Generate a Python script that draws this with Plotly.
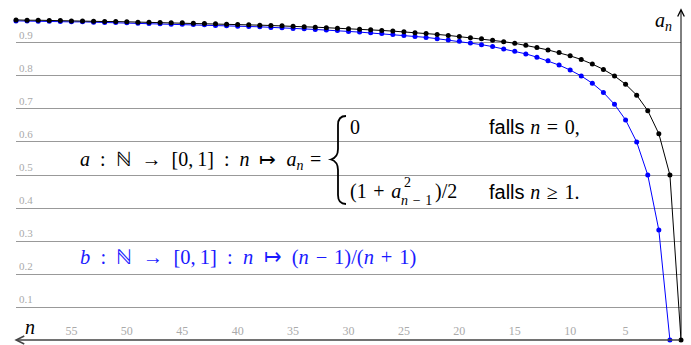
import plotly.graph_objects as go

# sequence a: a_0 = 0, a_n = (1 + a_{n-1}^2)/2
n_a = list(range(0, 61))
a_vals = [0.0, 0.5, 0.625, 0.695, 0.742, 0.775, 0.800, 0.820, 0.836, 0.850,
          0.861, 0.871, 0.879, 0.886, 0.893, 0.899, 0.904, 0.908, 0.913, 0.916,
          0.920, 0.923, 0.926, 0.929, 0.931, 0.934, 0.936, 0.938, 0.940, 0.942,
          0.943, 0.945, 0.946, 0.948, 0.949, 0.951, 0.952, 0.953, 0.954, 0.955,
          0.956, 0.957, 0.958, 0.959, 0.960, 0.961, 0.961, 0.962, 0.963, 0.963,
          0.964, 0.965, 0.965, 0.966, 0.967, 0.967, 0.968, 0.968, 0.969, 0.969,
          0.970]

# sequence b: (n-1)/(n+1), n >= 1
n_b = list(range(1, 61))
b_vals = [0.0, 0.333, 0.5, 0.6, 0.667, 0.714, 0.75, 0.778, 0.8, 0.818,
          0.833, 0.846, 0.857, 0.867, 0.875, 0.882, 0.889, 0.895, 0.9, 0.905,
          0.909, 0.913, 0.917, 0.92, 0.923, 0.926, 0.929, 0.931, 0.933, 0.935,
          0.938, 0.939, 0.941, 0.943, 0.944, 0.946, 0.947, 0.949, 0.95, 0.951,
          0.952, 0.953, 0.955, 0.956, 0.957, 0.957, 0.958, 0.959, 0.96, 0.961,
          0.962, 0.962, 0.963, 0.964, 0.964, 0.965, 0.966, 0.966, 0.967, 0.967]

x_ticks = [5, 10, 15, 20, 25, 30, 35, 40, 45, 50, 55]
y_ticks = [0.1, 0.2, 0.3, 0.4, 0.5, 0.6, 0.7, 0.8, 0.9, 1.0]
y_labels = ['0.1', '0.2', '0.3', '0.4', '0.5', '0.6', '0.7', '0.8', '0.9', '']

SERIF = 'Liberation Serif'
SANS = 'Liberation Sans'
SP = '\u2002'   # wider gap around relations, like TeX math spacing
MD = '\u2004'   # gap around binary operators
TH = '\u2009'

W, H = 691, 345
L, R, T, B = 16, 10, 9, 5

def px(x, y):
    # pixel position -> paper coords
    return (x - L) / (W - L - R), 1 - (y - T) / (H - T - B)

fig = go.Figure()
fig.add_trace(go.Scatter(x=n_b, y=b_vals, mode='lines+markers', cliponaxis=False,
                         line=dict(color='#0000ff', width=1),
                         marker=dict(color='#0000ff', size=5)))
fig.add_trace(go.Scatter(x=n_a, y=a_vals, mode='lines+markers', cliponaxis=False,
                         line=dict(color='black', width=1),
                         marker=dict(color='black', size=5)))

# axes arrows
fig.add_annotation(x=60.15, y=0, ax=0, ay=0, xref='x', yref='y', axref='x', ayref='y',
                   text='', showarrow=True, arrowhead=5, arrowsize=1, arrowwidth=1.6,
                   arrowcolor='#444')
fig.add_annotation(x=0, y=1.005, ax=0, ay=0, xref='x', yref='y', axref='x', ayref='y',
                   text='', showarrow=True, arrowhead=5, arrowsize=1.3, arrowwidth=1,
                   arrowcolor='black')

def label(x, y, text, size=20, color='black', family=SERIF, anchor='left'):
    x0, y0 = px(x, y)
    fig.add_annotation(x=x0, y=y0, xref='paper', yref='paper', showarrow=False,
                       xanchor=anchor, yanchor='middle', text=text,
                       font=dict(family=family, size=size, color=color))

label(663, 21, '<i>a</i><sub><i>n</i></sub>', size=20, anchor='center')
label(30, 327, '<i>n</i>', size=20, anchor='center')

# formulas
label(78, 160, f'<i>a</i>{SP}:{SP}ℕ{SP}→{SP}[0,{TH}1]{SP}:{SP}<i>n</i>{SP}↦{SP}<i>a</i><sub><i>n</i></sub>{MD}=')
label(348, 127, '0')
label(348, 192, f'(1{MD}+{MD}<i>a</i>')
label(402, 183, '2', size=14)
label(399, 200, f'<i>n</i>{MD}−{MD}1', size=14)
label(433, 192, ')/2')
label(487, 127, f'falls <span style="font-family:{SERIF}"><i>n</i>{MD}={MD}0,</span>', family=SANS)
label(487, 192, f'falls <span style="font-family:{SERIF}"><i>n</i>{MD}≥{MD}1.</span>', family=SANS)
label(78, 257, f'<i>b</i>{SP}:{SP}ℕ{SP}→{SP}[0,{TH}1]{SP}:{SP}<i>n</i>{SP}↦{SP}(<i>n</i>{MD}−{MD}1)/(<i>n</i>{MD}+{MD}1)',
      size=20.5, color='#1a1aff')

# curly brace of the case distinction
brace = [('M', [(346, 116)]),
         ('C', [(340, 116), (338, 119), (338, 125)]),
         ('L', [(338, 149)]),
         ('C', [(338, 155), (336, 158), (331, 159.5)]),
         ('C', [(336, 161), (338, 164), (338, 170)]),
         ('L', [(338, 195)]),
         ('C', [(338, 201), (340, 204), (346, 204)])]
path = ' '.join(cmd + ' ' + ' '.join('%.5f,%.5f' % px(*p) for p in pts) for cmd, pts in brace)
fig.add_shape(type='path', path=path, xref='paper', yref='paper',
              line=dict(color='black', width=1.8))

fig.update_xaxes(range=[60, 0], tickvals=x_ticks, ticktext=[str(v) for v in x_ticks],
                 ticklabelposition='inside', ticks='', showgrid=False, zeroline=False,
                 showline=False, tickfont=dict(family=SERIF, size=12, color='#aaa'))
fig.update_yaxes(range=[0, 1.003], tickvals=y_ticks, ticktext=y_labels,
                 ticklabelposition='inside top', ticks='', showgrid=True,
                 gridcolor='#999', gridwidth=1.3, zeroline=False, showline=False,
                 tickfont=dict(family=SERIF, size=11, color='#aaa'))
fig.update_layout(width=W, height=H, margin=dict(l=L, r=R, t=T, b=B),
                  showlegend=False, plot_bgcolor='white', paper_bgcolor='white')

fig.write_html('out.html', config={'displayModeBar': False},
               post_script="document.body.style.margin='0';")
